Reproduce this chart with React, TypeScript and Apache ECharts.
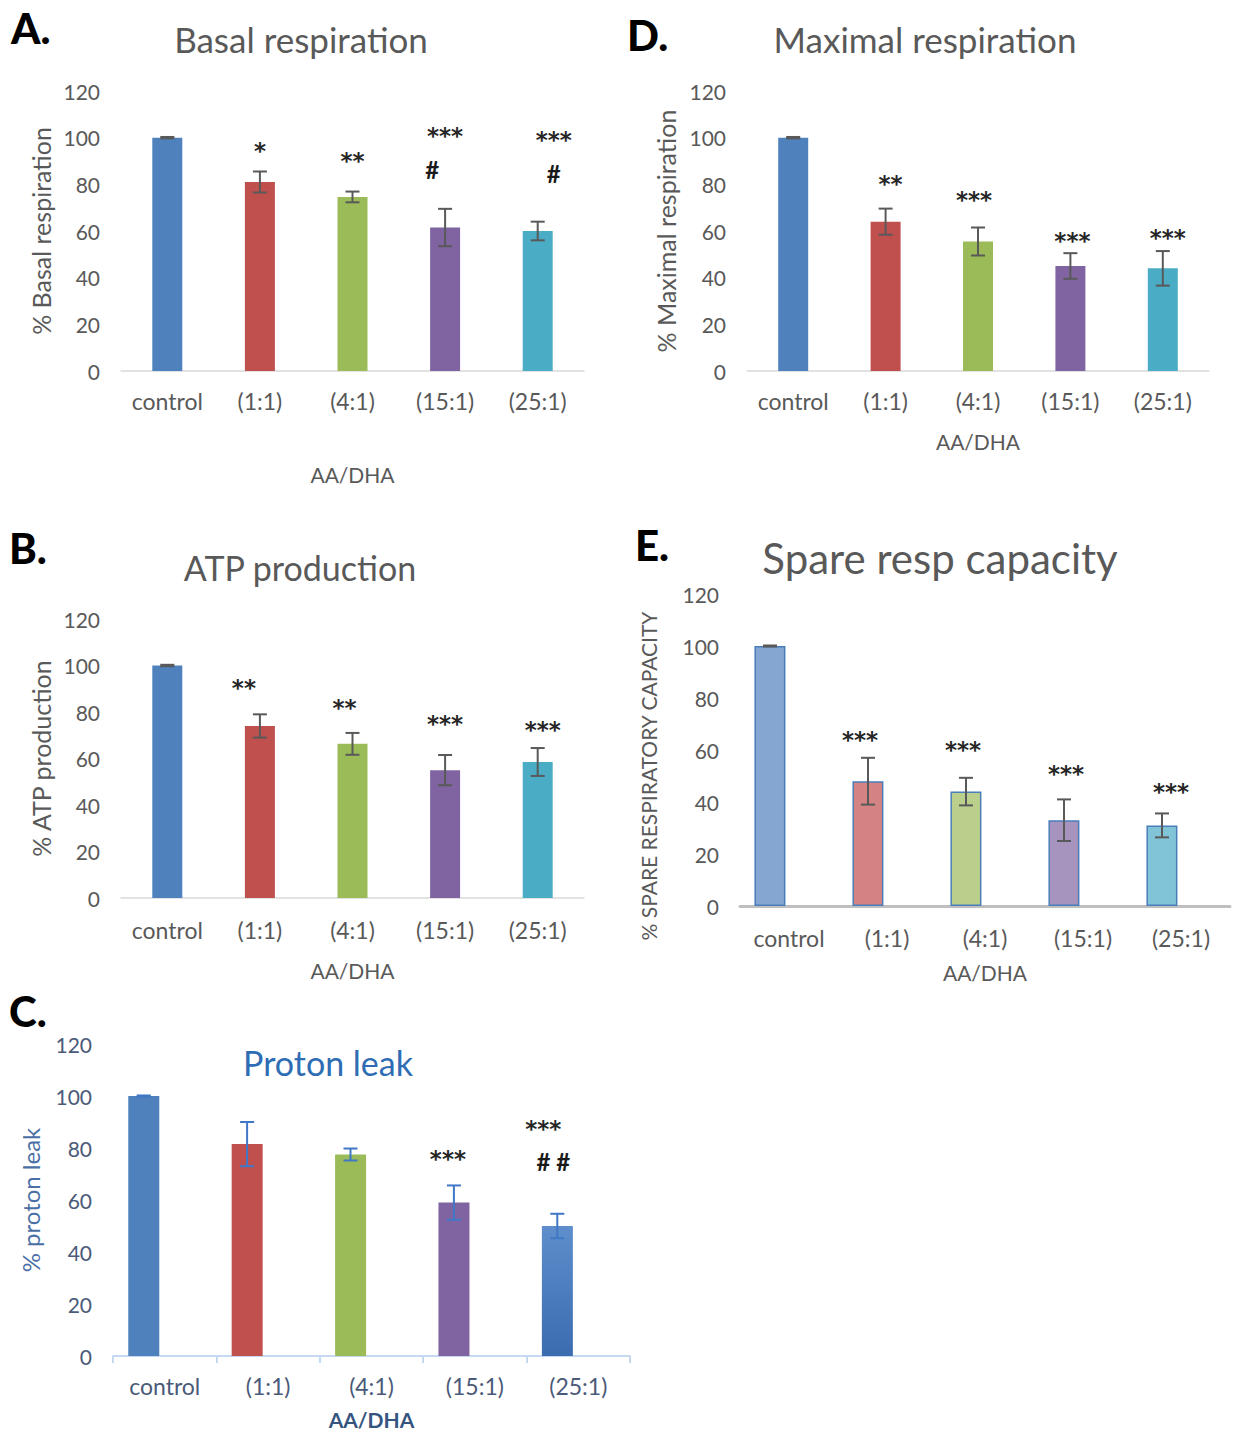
import React, { useEffect, useRef } from "react";
import * as echarts from "echarts";

const categories = ["control", "(1:1)", "(4:1)", "(15:1)", "(25:1)"];
const yTicks = [0, 20, 40, 60, 80, 100, 120];

// A. Basal respiration
const basalValues = [100, 81, 74.6, 61.5, 60];
const basalErrors = [0.3, 4.5, 2.3, 8, 4];
const basalMarkCats = [1, 2, 3, 3, 4, 4];
const basalMarkY = [97.5, 93.2, 103.6, 86.2, 101.9, 84.5];
const basalMarkText = ["*", "**", "***", "#", "***", "#"];

// D. Maximal respiration
const maximalValues = [100, 64, 55.5, 45, 44];
const maximalErrors = [0.3, 5.6, 6, 5.5, 7.4];
const maximalMarkCats = [1, 2, 3, 4];
const maximalMarkY = [83.1, 76.5, 58.9, 60];
const maximalMarkText = ["**", "***", "***", "***"];

// B. ATP production
const atpValues = [100, 74, 66.3, 55, 58.5];
const atpErrors = [0.3, 5, 4.7, 6.5, 6];
const atpMarkCats = [1, 2, 3, 4];
const atpMarkY = [93.5, 84.9, 77.8, 75.4];
const atpMarkText = ["**", "**", "***", "***"];

// E. Spare respiratory capacity
const spareValues = [100, 48, 44, 33, 31];
const spareErrors = [0.2, 9, 5.3, 8, 4.6];
const spareMarkCats = [1, 2, 3, 4];
const spareMarkY = [66.5, 62.6, 53.5, 46.5];
const spareMarkText = ["***", "***", "***", "***"];

// C. Proton leak
const protonValues = [100, 81.5, 77.5, 59, 50];
const protonErrors = [0.2, 8.5, 2.3, 6.6, 4.7];
const protonMarkCats = [3, 4, 4];
const protonMarkY = [78.6, 90.1, 74.7];
const protonMarkText = ["***", "***", "# #"];

const FONT = 'Lato, "Open Sans", sans-serif';
const GRAY = "#595959";

const solidColors = ["#4F81BD", "#C0504D", "#9BBB59", "#8064A2", "#4BACC6"];
const lightColors = ["#84A6D1", "#D38381", "#BACF8B", "#A693BE", "#81C4D7"];

type PanelCfg = {
  grid: any;
  values: number[];
  errors: number[];
  markCats: number[];
  markY: number[];
  markText: string[];
  markDx: number[];
  yName: string;
  colors: any[];
  barWidth: number;
  barOffset: number;
  barGap?: string;
  errColor: string;
  textColor: string;
  yNameColor: string;
  xNameColor: string;
  xNameBold?: boolean;
  axisLine: any;
  axisTick: any;
  labelMargin: number;
  xNameGap: number;
  yNameGap: number;
  yNameSize: number;
  yNamePadding?: number[];
  border?: boolean;
};

function buildPanel(idx: number, cfg: PanelCfg) {
  const grid = { ...cfg.grid, containLabel: false };
  const xAxis = {
    type: "category",
    gridIndex: idx,
    data: categories,
    axisLine: cfg.axisLine,
    axisTick: cfg.axisTick,
    axisLabel: {
      fontFamily: FONT,
      fontSize: 23,
      color: cfg.textColor,
      margin: cfg.labelMargin,
      interval: 0,
    },
    name: "AA/DHA",
    nameLocation: "middle",
    nameGap: cfg.xNameGap,
    nameTextStyle: {
      fontFamily: FONT,
      fontSize: 21,
      color: cfg.xNameColor,
      fontWeight: cfg.xNameBold ? "bold" : "normal",
    },
  };
  const yAxis = {
    type: "value",
    gridIndex: idx,
    min: yTicks[0],
    max: yTicks[yTicks.length - 1],
    interval: yTicks[1] - yTicks[0],
    axisLine: { show: false },
    axisTick: { show: false },
    splitLine: { show: false },
    axisLabel: {
      fontFamily: FONT,
      fontSize: 21,
      color: cfg.textColor,
      margin: 21,
    },
    name: cfg.yName,
    nameLocation: "middle",
    nameGap: cfg.yNameGap,
    nameTextStyle: {
      fontFamily: FONT,
      fontSize: cfg.yNameSize,
      color: cfg.yNameColor,
      padding: cfg.yNamePadding || 0,
    },
  };
  const series: any[] = [];
  series.push({
    type: "bar",
    xAxisIndex: idx,
    yAxisIndex: idx,
    barWidth: cfg.barWidth,
    barGap: cfg.barGap || "30%",
    data: cfg.values.map((v, i) => ({
      value: v,
      itemStyle: {
        color: cfg.colors[i],
        borderColor: cfg.border ? "#4A7EBB" : undefined,
        borderWidth: cfg.border ? 1.5 : 0,
      },
    })),
    silent: true,
  });
  if (cfg.barOffset !== 0) {
    series.push({
      type: "bar",
      xAxisIndex: idx,
      yAxisIndex: idx,
      barWidth: cfg.barWidth,
      barGap: cfg.barGap || "30%",
      data: cfg.values.map(() => "-"),
      itemStyle: { color: "transparent" },
      silent: true,
    });
  }
  series.push({
    type: "custom",
    xAxisIndex: idx,
    yAxisIndex: idx,
    z: 5,
    silent: true,
    data: cfg.values.map((v, i) => [i, v, cfg.errors[i]]),
    renderItem: (params: any, api: any) => {
      const i = api.value(0);
      const v = api.value(1);
      const e = api.value(2);
      const p1 = api.coord([i, v + e]);
      const p2 = api.coord([i, v - e]);
      const x = p1[0] + cfg.barOffset;
      const hw = 7;
      const style = { stroke: cfg.errColor, lineWidth: 2 };
      return {
        type: "group",
        children: [
          { type: "line", shape: { x1: x, y1: p1[1], x2: x, y2: p2[1] }, style },
          { type: "line", shape: { x1: x - hw, y1: p1[1], x2: x + hw, y2: p1[1] }, style },
          { type: "line", shape: { x1: x - hw, y1: p2[1], x2: x + hw, y2: p2[1] }, style },
        ],
      };
    },
  });
  series.push({
    type: "custom",
    xAxisIndex: idx,
    yAxisIndex: idx,
    z: 6,
    silent: true,
    data: cfg.markCats.map((c, i) => [c, cfg.markY[i]]),
    renderItem: (params: any, api: any) => {
      const k = params.dataIndex;
      const p = api.coord([api.value(0), api.value(1)]);
      const txt = cfg.markText[k];
      const isStar = txt.indexOf("*") >= 0;
      return {
        type: "text",
        x: p[0] + cfg.barOffset + cfg.markDx[k],
        y: p[1] + (isStar ? 7 : 0),
        style: {
          text: txt,
          fill: isStar ? "#262626" : "#1a1a1a",
          fontFamily: isStar ? '"DejaVu Sans", sans-serif' : FONT,
          fontWeight: "bold",
          fontSize: isStar ? 23 : 24,
          align: "center",
          verticalAlign: "middle",
        },
      };
    },
  });
  return { grid, xAxis, yAxis, series };
}

const plainAxisLine = { show: true, lineStyle: { color: "#D9D9D9", width: 1.5 } };

export default function App() {
  const ref = useRef<HTMLDivElement>(null);
  useEffect(() => {
    if (!ref.current) return;
    const chart = echarts.init(ref.current, undefined, { renderer: "svg" });

    const panels: PanelCfg[] = [
      {
        grid: { left: 121, top: 91, width: 463, height: 280 },
        values: basalValues,
        errors: basalErrors,
        markCats: basalMarkCats,
        markY: basalMarkY,
        markText: basalMarkText,
        markDx: [0, 0, 0, -13, 16, 16],
        yName: "% Basal respiration",
        colors: solidColors,
        barWidth: 30,
        barOffset: 0,
        errColor: "#595959",
        textColor: GRAY,
        yNameColor: GRAY,
        xNameColor: GRAY,
        axisLine: plainAxisLine,
        axisTick: { show: false },
        labelMargin: 18,
        xNameGap: 93,
        yNameGap: 68,
        yNameSize: 25,
      },
      {
        grid: { left: 747, top: 91, width: 462, height: 280 },
        values: maximalValues,
        errors: maximalErrors,
        markCats: maximalMarkCats,
        markY: maximalMarkY,
        markText: maximalMarkText,
        markDx: [5, -4, 2, 5],
        yName: "% Maximal respiration",
        colors: solidColors,
        barWidth: 30,
        barOffset: 0,
        errColor: "#595959",
        textColor: GRAY,
        yNameColor: GRAY,
        xNameColor: GRAY,
        axisLine: plainAxisLine,
        axisTick: { show: false },
        labelMargin: 18,
        xNameGap: 60,
        yNameGap: 69,
        yNameSize: 25,
      },
      {
        grid: { left: 121, top: 619, width: 463, height: 279 },
        values: atpValues,
        errors: atpErrors,
        markCats: atpMarkCats,
        markY: atpMarkY,
        markText: atpMarkText,
        markDx: [-16, -8, 0, 5],
        yName: "% ATP production",
        colors: solidColors,
        barWidth: 30,
        barOffset: 0,
        errColor: "#595959",
        textColor: GRAY,
        yNameColor: GRAY,
        xNameColor: GRAY,
        axisLine: plainAxisLine,
        axisTick: { show: false },
        labelMargin: 20,
        xNameGap: 62,
        yNameGap: 68,
        yNameSize: 25,
      },
      {
        grid: { left: 740, top: 594, width: 490, height: 312 },
        values: spareValues,
        errors: spareErrors,
        markCats: spareMarkCats,
        markY: spareMarkY,
        markText: spareMarkText,
        markDx: [-8, -3, 2, 9],
        yName: "% SPARE RESPIRATORY CAPACITY",
        colors: lightColors,
        barWidth: 31,
        barOffset: -19,
        barGap: "23%",
        errColor: "#595959",
        textColor: GRAY,
        yNameColor: GRAY,
        xNameColor: GRAY,
        axisLine: { show: true, lineStyle: { color: "#BFBFBF", width: 3 } },
        axisTick: { show: false },
        labelMargin: 20,
        xNameGap: 56,
        yNameGap: 81,
        yNameSize: 21,
        yNamePadding: [0, 52, 0, 0],
        border: true,
      },
      {
        grid: { left: 113, top: 1044, width: 517, height: 312 },
        values: protonValues,
        errors: protonErrors,
        markCats: protonMarkCats,
        markY: protonMarkY,
        markText: protonMarkText,
        markDx: [-6, -14, -4],
        yName: "% proton leak",
        colors: [
          "#4F81BD",
          "#C0504D",
          "#9BBB59",
          "#8064A2",
          new echarts.graphic.LinearGradient(0, 0, 0, 1, [
            { offset: 0, color: "#5E8ECB" },
            { offset: 1, color: "#3A6CB0" },
          ]),
        ],
        barWidth: 31,
        barOffset: -21,
        barGap: "35%",
        errColor: "#3F78C6",
        textColor: "#4A5A78",
        yNameColor: "#4A6FA5",
        xNameColor: "#35557F",
        xNameBold: true,
        axisLine: { show: true, lineStyle: { color: "#C5D9F0", width: 2 } },
        axisTick: { show: true, length: 7, lineStyle: { color: "#C5D9F0", width: 2 } },
        labelMargin: 18,
        xNameGap: 53,
        yNameGap: 71,
        yNameSize: 24,
      },
    ];

    const built = panels.map((p, i) => buildPanel(i, p));

    const titleStyle = (text: string, x: number, y: number, size: number, color: string) => ({
      type: "text",
      x,
      y,
      style: {
        text,
        fill: color,
        fontFamily: FONT,
        fontSize: size,
        align: "center",
        verticalAlign: "middle",
      },
    });
    const letter = (text: string, x: number, y: number) => ({
      type: "text",
      x,
      y,
      style: {
        text,
        fill: "#000",
        fontFamily: FONT,
        fontWeight: 900,
        fontSize: 42,
        align: "left",
        verticalAlign: "middle",
      },
    });

    chart.setOption({
      animation: false,
      backgroundColor: "#ffffff",
      grid: built.map((b) => b.grid),
      xAxis: built.map((b) => b.xAxis),
      yAxis: built.map((b) => b.yAxis),
      series: built.flatMap((b) => b.series),
      graphic: [
        letter("A.", 11, 28),
        letter("D.", 627, 35),
        letter("B.", 9, 548),
        letter("E.", 635, 545),
        letter("C.", 9, 1011),
        titleStyle("Basal respiration", 301, 39, 35, GRAY),
        titleStyle("Maximal respiration", 925, 39, 35, GRAY),
        titleStyle("ATP production", 300, 567, 34, GRAY),
        titleStyle("Spare resp capacity", 940, 558, 42, GRAY),
        titleStyle("Proton leak", 328, 1062, 34, "#2E6DB4"),
      ],
    });
    return () => chart.dispose();
  }, []);
  return (
    <div
      ref={ref}
      style={{ position: "absolute", left: 0, top: 0, width: 1235, height: 1436, background: "#fff" }}
    />
  );
}
